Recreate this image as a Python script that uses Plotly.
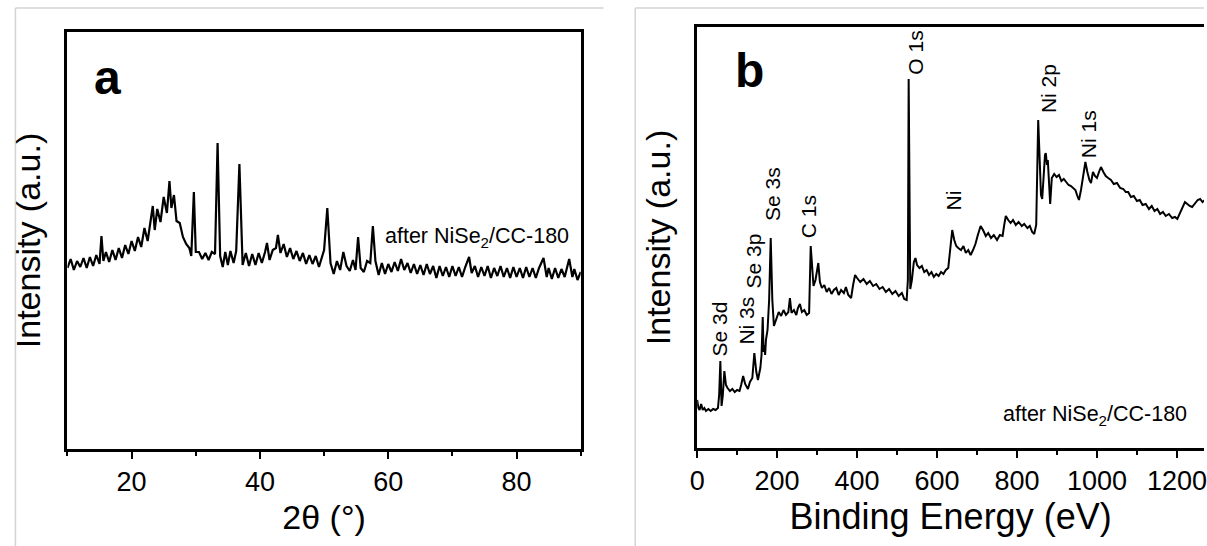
import plotly.graph_objects as go

# ---------------- Panel a : XRD ----------------
two_theta = [10.0, 10.5, 11.0, 11.5, 12.0, 12.5, 13.0, 13.5, 14.0, 14.5, 15.0, 15.3, 15.6, 16.0, 16.5,
             17.0, 17.5, 18.0, 18.5, 19.0, 19.5, 20.0, 20.5, 21.0, 21.5, 22.0, 22.5, 23.0, 23.3, 23.6,
             24.0, 24.5, 25.0, 25.5, 25.9, 26.2, 26.6, 27.0, 27.5, 28.0, 28.5, 29.0, 29.3, 29.7, 30.0,
             30.5, 31.0, 31.5, 32.0, 32.5, 33.0, 33.4, 33.8, 34.2, 34.6, 35.0, 35.4, 35.9, 36.3, 36.8,
             37.3, 37.8, 38.3, 38.8, 39.3, 39.8, 40.3, 40.8, 41.1, 41.5, 42.0, 42.5, 42.8, 43.2, 43.7,
             44.2, 44.7, 45.2, 45.7, 46.2, 46.7, 47.2, 47.7, 48.2, 48.7, 49.2, 49.7, 50.0, 50.5, 51.0,
             51.5, 52.0, 52.5, 53.0, 53.5, 54.0, 54.5, 54.9, 55.3, 55.7, 56.2, 56.7, 57.2, 57.6, 58.0,
             58.5, 59.0, 59.5, 60.0, 60.5, 61.0, 61.5, 62.0, 62.5, 63.0, 63.5, 64.0, 64.5, 65.0, 65.5,
             66.0, 66.5, 67.0, 67.5, 68.0, 68.5, 69.0, 69.5, 70.0, 70.5, 71.0, 71.5, 72.0, 72.6, 73.0,
             73.5, 74.0, 74.5, 75.0, 75.5, 76.0, 76.5, 77.0, 77.5, 78.0, 78.5, 79.0, 79.5, 80.0, 80.5,
             81.0, 81.5, 82.0, 82.5, 83.0, 83.5, 84.2, 84.7, 85.0, 85.5, 86.0, 86.5, 87.0, 87.5, 88.2,
             88.7, 89.0, 89.5, 90.0]
xrd_intensity = [181, 190, 179, 188, 182, 191, 181, 192, 183, 194, 185, 213, 188, 197, 187,
                 199, 189, 201, 191, 204, 195, 208, 198, 212, 202, 221, 208, 229, 243, 219,
                 240, 227, 252, 236, 268, 241, 254, 228, 226, 212, 205, 201, 193, 257, 197,
                 197, 190, 196, 189, 197, 195, 306, 193, 182, 197, 184, 198, 186, 198, 285,
                 184, 196, 183, 195, 184, 196, 186, 197, 206, 189, 199, 201, 214, 196, 205,
                 192, 201, 190, 198, 188, 196, 185, 194, 185, 193, 182, 193, 199, 241, 186,
                 175, 188, 179, 197, 183, 178, 189, 179, 212, 181, 177, 188, 186, 223, 188,
                 174, 186, 175, 185, 177, 187, 178, 190, 179, 186, 176, 185, 175, 184, 174,
                 185, 175, 183, 171, 183, 173, 182, 172, 183, 173, 182, 172, 182, 192, 176,
                 183, 172, 182, 173, 183, 171, 181, 173, 183, 172, 181, 171, 182, 172, 181,
                 171, 182, 172, 181, 171, 181, 191, 172, 181, 170, 181, 171, 180, 172, 190,
                 172, 180, 169, 177]
xrd_ticks = [20, 40, 60, 80]

# ---------------- Panel b : XPS survey ----------------
binding_energy = [0, 3, 6, 10, 14, 18, 22, 28, 34, 40, 46, 52, 55, 58, 61, 64, 68, 72, 76, 82,
                  88, 94, 100, 106, 110, 115, 120, 127, 132, 138, 143, 148, 152, 156, 158, 161, 164, 166, 168, 170,
                  172, 176, 180, 184, 188, 192, 198, 204, 210, 216, 222, 228, 232, 236, 242, 248, 252, 257, 262, 268,
                  274, 280, 284, 288, 291, 296, 300, 303, 307, 312, 318, 324, 330, 336, 342, 348, 354, 360, 367, 372,
                  378, 385, 390, 395, 400, 408, 416, 424, 432, 440, 448, 456, 464, 472, 480, 488, 496, 504, 512, 518,
                  524, 527, 529, 531, 533, 537, 542, 546, 550, 556, 562, 568, 574, 580, 586, 592, 598, 604, 610, 616,
                  622, 628, 633, 638, 643, 648, 653, 660, 666, 672, 678, 684, 690, 696, 702, 709, 715, 722, 728, 735,
                  742, 750, 757, 764, 768, 772, 778, 784, 790, 797, 804, 812, 818, 826, 832, 838, 843, 848, 853, 857,
                  860, 863, 867, 870, 872, 875, 877, 880, 883, 887, 893, 899, 905, 911, 917, 923, 929, 935, 941, 946,
                  951, 955, 960, 965, 971, 976, 981, 985, 990, 995, 1000, 1005, 1010, 1016, 1022, 1028, 1035, 1042, 1050, 1058,
                  1066, 1072, 1078, 1085, 1092, 1100, 1107, 1114, 1122, 1130, 1137, 1144, 1151, 1158, 1165, 1172, 1180, 1188, 1195, 1201,
                  1206, 1212, 1220, 1226, 1232, 1238, 1245, 1252, 1258, 1264, 1270]
xps_intensity = [48, 40, 38, 44, 38, 40, 37, 39, 37, 39, 38, 40, 53, 87, 42, 52, 77, 63, 60, 57,
                 59, 56, 58, 57, 63, 72, 64, 59, 66, 70, 95, 76, 68, 78, 80, 93, 131, 96, 103, 93,
                 108, 118, 148, 210, 148, 122, 130, 136, 132, 138, 133, 136, 150, 135, 138, 133, 140, 144, 136, 138,
                 133, 135, 202, 178, 162, 168, 176, 185, 166, 160, 163, 156, 160, 154, 158, 160, 153, 158, 155, 161,
                 153, 150, 163, 173, 170, 166, 169, 164, 167, 162, 164, 159, 161, 156, 159, 154, 157, 152, 155, 149,
                 148, 168, 369, 248, 159, 168, 186, 190, 183, 180, 182, 176, 178, 173, 176, 171, 174, 172, 176, 174,
                 178, 180, 196, 218, 208, 202, 200, 198, 202, 195, 198, 193, 198, 204, 213, 222, 218, 212, 215, 210,
                 213, 208, 213, 212, 223, 232, 228, 225, 228, 223, 226, 222, 224, 220, 222, 216, 214, 223, 328, 288,
                 253, 249, 278, 293, 295, 283, 288, 268, 244, 270, 274, 271, 273, 267, 269, 266, 263, 262, 260, 258,
                 252, 248, 258, 273, 286, 276, 268, 265, 276, 272, 270, 276, 281, 276, 272, 270, 268, 264, 265, 260,
                 259, 256, 256, 251, 252, 247, 248, 243, 244, 239, 242, 237, 239, 234, 236, 232, 234, 230, 231, 229,
                 234, 240, 246, 244, 242, 241, 245, 248, 249, 246, 248]
xps_ticks = [0, 200, 400, 600, 800, 1000, 1200]

peak_labels = ["Se 3d", "Ni 3s", "Se 3p", "Se 3s", "C 1s", "O 1s", "Ni", "Ni 2p", "Ni 1s"]
peak_label_x = [57, 121, 142, 187, 279, 544, 641, 879, 978]
peak_label_y = [90, 101, 158, 225, 208, 371, 236, 333, 288]

W, H = 1207, 546
FONT = "Arial, Liberation Sans, sans-serif"

fig = go.Figure()
fig.add_trace(go.Scatter(x=two_theta, y=xrd_intensity, mode="lines",
                         line=dict(color="black", width=2.2), xaxis="x", yaxis="y",
                         showlegend=False))
fig.add_trace(go.Scatter(x=binding_energy, y=xps_intensity, mode="lines",
                         line=dict(color="black", width=2), xaxis="x2", yaxis="y2",
                         showlegend=False))

axis_common = dict(showline=True, linecolor="black", linewidth=2.5, showgrid=False,
                   zeroline=False, ticks="outside", ticklen=7, tickwidth=2,
                   tickcolor="black", ticklabeloverflow="allow",
                   tickfont=dict(family=FONT, size=27, color="black"))

fig.update_layout(
    width=W, height=H, margin=dict(l=0, r=0, t=0, b=0),
    paper_bgcolor="white", plot_bgcolor="white",
    font=dict(family=FONT, color="black"),
    xaxis=dict(domain=[60 / W, 578 / W], range=[10, 90], tickvals=xrd_ticks, mirror=True,
               minor=dict(tickvals=[10, 30, 50, 70, 90], ticks="outside", ticklen=4,
                          tickwidth=2, tickcolor="black"),
               title=dict(text="2θ (°)", font=dict(family=FONT, size=34), standoff=10),
               anchor="y", **axis_common),
    yaxis=dict(domain=[1 - 449 / H, 1 - 32 / H], range=[0, 417], showline=True, linecolor="black",
               linewidth=2.5, mirror=True, showticklabels=False, ticks="", showgrid=False,
               zeroline=False, anchor="x",
               title=dict(text="Intensity (a.u.)", font=dict(family=FONT, size=34), standoff=14)),
    xaxis2=dict(domain=[695.5 / W, 1.0], range=[0, 1267.7], tickvals=xps_ticks, mirror=True,
                minor=dict(tickvals=[100, 300, 500, 700, 900, 1100], ticks="outside", ticklen=4,
                           tickwidth=2, tickcolor="black"),
                title=dict(text="Binding Energy (eV)", font=dict(family=FONT, size=36), standoff=8),
                anchor="y2", **axis_common),
    yaxis2=dict(domain=[1 - 448 / H, 1 - 27 / H], range=[0, 421], showline=True, linecolor="black",
                linewidth=2.5, mirror=False, showticklabels=False, ticks="", showgrid=False,
                zeroline=False, anchor="x2",
                title=dict(text="Intensity (a.u.)", font=dict(family=FONT, size=34), standoff=14)),
)

# panel letters
fig.add_annotation(x=16.2, y=372, xref="x", yref="y", text="<b>a</b>", showarrow=False,
                   font=dict(family=FONT, size=48, color="black"))
fig.add_annotation(x=130, y=378, xref="x2", yref="y2", text="<b>b</b>", showarrow=False,
                   font=dict(family=FONT, size=48, color="black"))

# sample labels
fig.add_annotation(x=73.8, y=212, xref="x", yref="y", text="after NiSe<sub>2</sub>/CC-180",
                   showarrow=False, font=dict(family=FONT, size=21.5, color="black"))
fig.add_annotation(x=996, y=33, xref="x2", yref="y2", text="after NiSe<sub>2</sub>/CC-180",
                   showarrow=False, font=dict(family=FONT, size=21.5, color="black"))

# peak assignments
for lab, lx, ly in zip(peak_labels, peak_label_x, peak_label_y):
    fig.add_annotation(x=lx, y=ly, xref="x2", yref="y2", text=lab, showarrow=False,
                       textangle=-90, xanchor="center", yanchor="bottom",
                       font=dict(family=FONT, size=21, color="black"))

# light grey frames around the two sub-figures
grey = dict(color="#d4d4d4", width=1.5)
for x0, x1 in [(7.5, 601), (633, W)]:
    fig.add_shape(type="line", xref="paper", yref="paper", x0=x0 / W, x1=x1 / W,
                  y0=1 - 8 / H, y1=1 - 8 / H, line=grey)
    fig.add_shape(type="line", xref="paper", yref="paper", x0=x0 / W, x1=x0 / W,
                  y0=1 - 8 / H, y1=0, line=grey)

fig.write_html("out.html")
